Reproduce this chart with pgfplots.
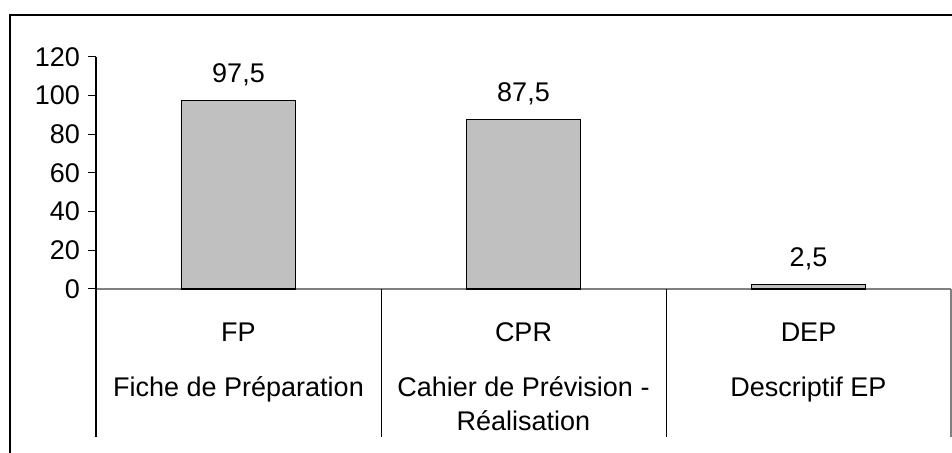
\documentclass[border=0pt]{standalone}
\usepackage{fontspec}
\setmainfont{Liberation Sans}
\usepackage{pgfplots}
\pgfplotsset{compat=1.18}
\definecolor{barGray}{RGB}{192,192,192}
\definecolor{axGray}{RGB}{128,128,128}
\begin{document}
\begin{tikzpicture}
\useasboundingbox (0pt,0pt) rectangle (952pt,452pt);
\draw[line width=2pt] (10pt,-10pt) rectangle (965pt,437pt);
\begin{axis}[
  at={(96pt,163pt)}, anchor=south west,
  scale only axis, width=855pt, height=232pt,
  xmin=-0.5, xmax=2.5, ymin=0, ymax=120,
  clip=false,
  axis y line=left, axis x line=bottom,
  y axis line style={black, line width=1pt, -},
  x axis line style={axGray, line width=1.5pt, -},
  ytick={0,20,...,120},
  yticklabel style={font=\fontsize{27}{30}\selectfont, /pgf/number format/assume math mode=true, inner sep=0pt, xshift=-8pt},
  tick align=outside, major tick length=8pt,
  ytick style={black, line width=1pt},
  xtick={0,1,2},
  xtick style={draw=none},
  xticklabels={{FP\\[21pt]Fiche de Préparation},{CPR\\[21pt]Cahier de Prévision -\\Réalisation},{DEP\\[21pt]Descriptif EP}},
  xticklabel style={font=\fontsize{27}{34}\selectfont, align=center, anchor=north, yshift=-22pt},
]
\addplot[ybar, bar width=0.4, fill=barGray, draw=black, line width=1.2pt,
  point meta=explicit symbolic, nodes near coords,
  every node near coord/.style={font=\fontsize{27}{30}\selectfont, anchor=base, yshift=18pt, inner sep=0pt}]
  coordinates {(0,97.5) [97,5] (1,87.5) [87,5] (2,2.5) [2,5]};
\draw[black, line width=1pt] (axis cs:-0.5,0) -- ([yshift=-148pt]axis cs:-0.5,0);
\draw[black, line width=1pt] (axis cs:0.5,0) -- ([yshift=-148pt]axis cs:0.5,0);
\draw[black, line width=1pt] (axis cs:1.5,0) -- ([yshift=-148pt]axis cs:1.5,0);
\draw[axGray, line width=1.5pt] (axis cs:2.5,0) -- ([yshift=-148pt]axis cs:2.5,0);
\end{axis}
\end{tikzpicture}
\end{document}
